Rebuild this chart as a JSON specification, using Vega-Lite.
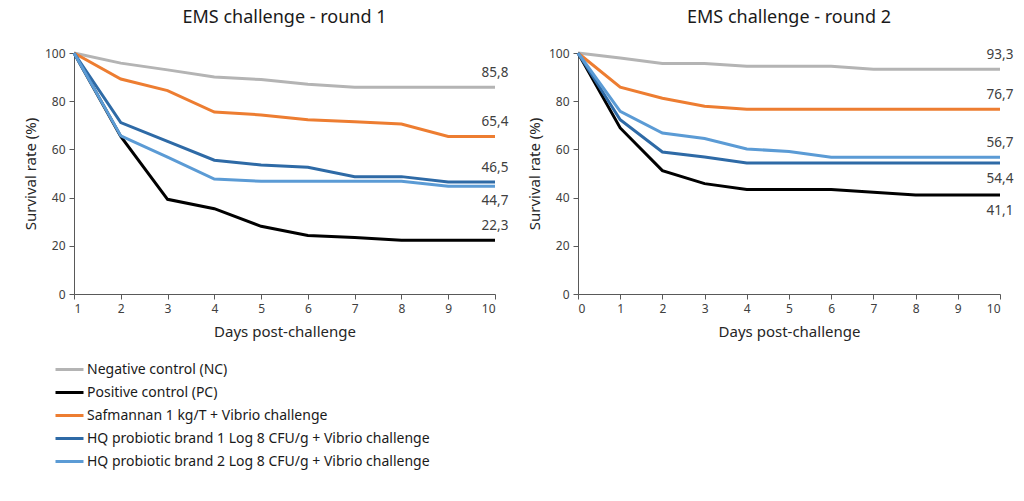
{
  "$schema": "https://vega.github.io/schema/vega-lite/v6.json",
  "background": "white",
  "padding": {"left": 23, "top": 9, "right": 7, "bottom": 5},
  "config": {
    "font": "Noto Sans",
    "view": {"stroke": null},
    "axis": {
      "grid": false,
      "domainColor": "#595959",
      "tickColor": "#595959",
      "labelColor": "#404040",
      "labelFontSize": 12,
      "labelPadding": 4,
      "titleColor": "#262626",
      "titleFontSize": 15,
      "titleFontWeight": "normal",
      "tickSize": 5
    },
    "axisX": {"titlePadding": 10},
    "axisY": {"titlePadding": 6},
    "title": {"fontSize": 18, "fontWeight": "normal", "color": "#1a1a1a", "offset": 20},
    "legend": {
      "orient": "none",
      "legendX": -20,
      "legendY": 301,
      "symbolType": "stroke",
      "symbolSize": 784,
      "symbolStrokeWidth": 3,
      "labelFontSize": 14,
      "labelColor": "#1a1a1a",
      "labelOffset": 2,
      "rowPadding": -2,
      "labelLimit": 500
    }
  },
  "datasets": {
    "survival": [
      {"round": 1, "group": "Negative control (NC)", "day": 1, "rate": 100},
      {"round": 1, "group": "Negative control (NC)", "day": 2, "rate": 95.8},
      {"round": 1, "group": "Negative control (NC)", "day": 3, "rate": 93},
      {"round": 1, "group": "Negative control (NC)", "day": 4, "rate": 90},
      {"round": 1, "group": "Negative control (NC)", "day": 5, "rate": 89},
      {"round": 1, "group": "Negative control (NC)", "day": 6, "rate": 87},
      {"round": 1, "group": "Negative control (NC)", "day": 7, "rate": 85.8},
      {"round": 1, "group": "Negative control (NC)", "day": 8, "rate": 85.8},
      {"round": 1, "group": "Negative control (NC)", "day": 9, "rate": 85.8},
      {"round": 1, "group": "Negative control (NC)", "day": 10, "rate": 85.8},
      {"round": 1, "group": "Positive control (PC)", "day": 1, "rate": 100},
      {"round": 1, "group": "Positive control (PC)", "day": 2, "rate": 65.4},
      {"round": 1, "group": "Positive control (PC)", "day": 3, "rate": 39.3},
      {"round": 1, "group": "Positive control (PC)", "day": 4, "rate": 35.4},
      {"round": 1, "group": "Positive control (PC)", "day": 5, "rate": 28.1},
      {"round": 1, "group": "Positive control (PC)", "day": 6, "rate": 24.3},
      {"round": 1, "group": "Positive control (PC)", "day": 7, "rate": 23.4},
      {"round": 1, "group": "Positive control (PC)", "day": 8, "rate": 22.3},
      {"round": 1, "group": "Positive control (PC)", "day": 9, "rate": 22.3},
      {"round": 1, "group": "Positive control (PC)", "day": 10, "rate": 22.3},
      {"round": 1, "group": "Safmannan 1 kg/T + Vibrio challenge", "day": 1, "rate": 100},
      {"round": 1, "group": "Safmannan 1 kg/T + Vibrio challenge", "day": 2, "rate": 89.2},
      {"round": 1, "group": "Safmannan 1 kg/T + Vibrio challenge", "day": 3, "rate": 84.4},
      {"round": 1, "group": "Safmannan 1 kg/T + Vibrio challenge", "day": 4, "rate": 75.5},
      {"round": 1, "group": "Safmannan 1 kg/T + Vibrio challenge", "day": 5, "rate": 74.3},
      {"round": 1, "group": "Safmannan 1 kg/T + Vibrio challenge", "day": 6, "rate": 72.3},
      {"round": 1, "group": "Safmannan 1 kg/T + Vibrio challenge", "day": 7, "rate": 71.5},
      {"round": 1, "group": "Safmannan 1 kg/T + Vibrio challenge", "day": 8, "rate": 70.5},
      {"round": 1, "group": "Safmannan 1 kg/T + Vibrio challenge", "day": 9, "rate": 65.4},
      {"round": 1, "group": "Safmannan 1 kg/T + Vibrio challenge", "day": 10, "rate": 65.4},
      {"round": 1, "group": "HQ probiotic brand 1 Log 8 CFU/g + Vibrio challenge", "day": 1, "rate": 100},
      {"round": 1, "group": "HQ probiotic brand 1 Log 8 CFU/g + Vibrio challenge", "day": 2, "rate": 71.1},
      {"round": 1, "group": "HQ probiotic brand 1 Log 8 CFU/g + Vibrio challenge", "day": 3, "rate": 63.3},
      {"round": 1, "group": "HQ probiotic brand 1 Log 8 CFU/g + Vibrio challenge", "day": 4, "rate": 55.5},
      {"round": 1, "group": "HQ probiotic brand 1 Log 8 CFU/g + Vibrio challenge", "day": 5, "rate": 53.5},
      {"round": 1, "group": "HQ probiotic brand 1 Log 8 CFU/g + Vibrio challenge", "day": 6, "rate": 52.6},
      {"round": 1, "group": "HQ probiotic brand 1 Log 8 CFU/g + Vibrio challenge", "day": 7, "rate": 48.7},
      {"round": 1, "group": "HQ probiotic brand 1 Log 8 CFU/g + Vibrio challenge", "day": 8, "rate": 48.7},
      {"round": 1, "group": "HQ probiotic brand 1 Log 8 CFU/g + Vibrio challenge", "day": 9, "rate": 46.5},
      {"round": 1, "group": "HQ probiotic brand 1 Log 8 CFU/g + Vibrio challenge", "day": 10, "rate": 46.5},
      {"round": 1, "group": "HQ probiotic brand 2 Log 8 CFU/g + Vibrio challenge", "day": 1, "rate": 100},
      {"round": 1, "group": "HQ probiotic brand 2 Log 8 CFU/g + Vibrio challenge", "day": 2, "rate": 65.6},
      {"round": 1, "group": "HQ probiotic brand 2 Log 8 CFU/g + Vibrio challenge", "day": 3, "rate": 56.8},
      {"round": 1, "group": "HQ probiotic brand 2 Log 8 CFU/g + Vibrio challenge", "day": 4, "rate": 47.7},
      {"round": 1, "group": "HQ probiotic brand 2 Log 8 CFU/g + Vibrio challenge", "day": 5, "rate": 46.8},
      {"round": 1, "group": "HQ probiotic brand 2 Log 8 CFU/g + Vibrio challenge", "day": 6, "rate": 46.8},
      {"round": 1, "group": "HQ probiotic brand 2 Log 8 CFU/g + Vibrio challenge", "day": 7, "rate": 46.8},
      {"round": 1, "group": "HQ probiotic brand 2 Log 8 CFU/g + Vibrio challenge", "day": 8, "rate": 46.8},
      {"round": 1, "group": "HQ probiotic brand 2 Log 8 CFU/g + Vibrio challenge", "day": 9, "rate": 44.7},
      {"round": 1, "group": "HQ probiotic brand 2 Log 8 CFU/g + Vibrio challenge", "day": 10, "rate": 44.7},
      {"round": 2, "group": "Negative control (NC)", "day": 0, "rate": 100},
      {"round": 2, "group": "Negative control (NC)", "day": 1, "rate": 97.9},
      {"round": 2, "group": "Negative control (NC)", "day": 2, "rate": 95.6},
      {"round": 2, "group": "Negative control (NC)", "day": 3, "rate": 95.6},
      {"round": 2, "group": "Negative control (NC)", "day": 4, "rate": 94.5},
      {"round": 2, "group": "Negative control (NC)", "day": 5, "rate": 94.5},
      {"round": 2, "group": "Negative control (NC)", "day": 6, "rate": 94.5},
      {"round": 2, "group": "Negative control (NC)", "day": 7, "rate": 93.3},
      {"round": 2, "group": "Negative control (NC)", "day": 8, "rate": 93.3},
      {"round": 2, "group": "Negative control (NC)", "day": 9, "rate": 93.3},
      {"round": 2, "group": "Negative control (NC)", "day": 10, "rate": 93.3},
      {"round": 2, "group": "Positive control (PC)", "day": 0, "rate": 100},
      {"round": 2, "group": "Positive control (PC)", "day": 1, "rate": 68.9},
      {"round": 2, "group": "Positive control (PC)", "day": 2, "rate": 51.2},
      {"round": 2, "group": "Positive control (PC)", "day": 3, "rate": 45.8},
      {"round": 2, "group": "Positive control (PC)", "day": 4, "rate": 43.4},
      {"round": 2, "group": "Positive control (PC)", "day": 5, "rate": 43.4},
      {"round": 2, "group": "Positive control (PC)", "day": 6, "rate": 43.4},
      {"round": 2, "group": "Positive control (PC)", "day": 7, "rate": 42.2},
      {"round": 2, "group": "Positive control (PC)", "day": 8, "rate": 41.1},
      {"round": 2, "group": "Positive control (PC)", "day": 9, "rate": 41.1},
      {"round": 2, "group": "Positive control (PC)", "day": 10, "rate": 41.1},
      {"round": 2, "group": "Safmannan 1 kg/T + Vibrio challenge", "day": 0, "rate": 100},
      {"round": 2, "group": "Safmannan 1 kg/T + Vibrio challenge", "day": 1, "rate": 85.8},
      {"round": 2, "group": "Safmannan 1 kg/T + Vibrio challenge", "day": 2, "rate": 81.2},
      {"round": 2, "group": "Safmannan 1 kg/T + Vibrio challenge", "day": 3, "rate": 77.9},
      {"round": 2, "group": "Safmannan 1 kg/T + Vibrio challenge", "day": 4, "rate": 76.7},
      {"round": 2, "group": "Safmannan 1 kg/T + Vibrio challenge", "day": 5, "rate": 76.7},
      {"round": 2, "group": "Safmannan 1 kg/T + Vibrio challenge", "day": 6, "rate": 76.7},
      {"round": 2, "group": "Safmannan 1 kg/T + Vibrio challenge", "day": 7, "rate": 76.7},
      {"round": 2, "group": "Safmannan 1 kg/T + Vibrio challenge", "day": 8, "rate": 76.7},
      {"round": 2, "group": "Safmannan 1 kg/T + Vibrio challenge", "day": 9, "rate": 76.7},
      {"round": 2, "group": "Safmannan 1 kg/T + Vibrio challenge", "day": 10, "rate": 76.7},
      {"round": 2, "group": "HQ probiotic brand 1 Log 8 CFU/g + Vibrio challenge", "day": 0, "rate": 100},
      {"round": 2, "group": "HQ probiotic brand 1 Log 8 CFU/g + Vibrio challenge", "day": 1, "rate": 72.3},
      {"round": 2, "group": "HQ probiotic brand 1 Log 8 CFU/g + Vibrio challenge", "day": 2, "rate": 58.9},
      {"round": 2, "group": "HQ probiotic brand 1 Log 8 CFU/g + Vibrio challenge", "day": 3, "rate": 56.8},
      {"round": 2, "group": "HQ probiotic brand 1 Log 8 CFU/g + Vibrio challenge", "day": 4, "rate": 54.4},
      {"round": 2, "group": "HQ probiotic brand 1 Log 8 CFU/g + Vibrio challenge", "day": 5, "rate": 54.4},
      {"round": 2, "group": "HQ probiotic brand 1 Log 8 CFU/g + Vibrio challenge", "day": 6, "rate": 54.4},
      {"round": 2, "group": "HQ probiotic brand 1 Log 8 CFU/g + Vibrio challenge", "day": 7, "rate": 54.4},
      {"round": 2, "group": "HQ probiotic brand 1 Log 8 CFU/g + Vibrio challenge", "day": 8, "rate": 54.4},
      {"round": 2, "group": "HQ probiotic brand 1 Log 8 CFU/g + Vibrio challenge", "day": 9, "rate": 54.4},
      {"round": 2, "group": "HQ probiotic brand 1 Log 8 CFU/g + Vibrio challenge", "day": 10, "rate": 54.4},
      {"round": 2, "group": "HQ probiotic brand 2 Log 8 CFU/g + Vibrio challenge", "day": 0, "rate": 100},
      {"round": 2, "group": "HQ probiotic brand 2 Log 8 CFU/g + Vibrio challenge", "day": 1, "rate": 75.8},
      {"round": 2, "group": "HQ probiotic brand 2 Log 8 CFU/g + Vibrio challenge", "day": 2, "rate": 66.8},
      {"round": 2, "group": "HQ probiotic brand 2 Log 8 CFU/g + Vibrio challenge", "day": 3, "rate": 64.5},
      {"round": 2, "group": "HQ probiotic brand 2 Log 8 CFU/g + Vibrio challenge", "day": 4, "rate": 60.2},
      {"round": 2, "group": "HQ probiotic brand 2 Log 8 CFU/g + Vibrio challenge", "day": 5, "rate": 59.1},
      {"round": 2, "group": "HQ probiotic brand 2 Log 8 CFU/g + Vibrio challenge", "day": 6, "rate": 56.7},
      {"round": 2, "group": "HQ probiotic brand 2 Log 8 CFU/g + Vibrio challenge", "day": 7, "rate": 56.7},
      {"round": 2, "group": "HQ probiotic brand 2 Log 8 CFU/g + Vibrio challenge", "day": 8, "rate": 56.7},
      {"round": 2, "group": "HQ probiotic brand 2 Log 8 CFU/g + Vibrio challenge", "day": 9, "rate": 56.7},
      {"round": 2, "group": "HQ probiotic brand 2 Log 8 CFU/g + Vibrio challenge", "day": 10, "rate": 56.7}
    ]
  },
  "spacing": 18,
  "hconcat": [
    {
      "width": 421,
      "height": 241,
      "title": "EMS challenge - round 1",
      "data": {"name": "survival"},
      "transform": [{"filter": "datum.round == 1"}],
      "layer": [
        {
          "mark": {"type": "line", "strokeWidth": 3},
          "encoding": {
            "x": {"field": "day", "type": "quantitative", "title": "Days post-challenge",
                  "scale": {"domain": [1, 10], "nice": false},
                  "axis": {"values": [1, 2, 3, 4, 5, 6, 7, 8, 9, 10], "format": "d"}},
            "y": {"field": "rate", "type": "quantitative", "title": "Survival rate (%)",
                  "scale": {"domain": [0, 100], "nice": false},
                  "axis": {"values": [0, 20, 40, 60, 80, 100]}},
            "color": {"field": "group", "type": "nominal", "title": null,
                      "scale": {"domain": ["Negative control (NC)", "Positive control (PC)", "Safmannan 1 kg/T + Vibrio challenge", "HQ probiotic brand 1 Log 8 CFU/g + Vibrio challenge", "HQ probiotic brand 2 Log 8 CFU/g + Vibrio challenge"],
                                "range": ["#b4b4b4", "#000000", "#ed7d31", "#2e6aa6", "#5b9bd5"]},
                      "sort": null}
          }
        },
        {
          "transform": [
            {"filter": "datum.day == 10 && datum.group != 'HQ probiotic brand 2 Log 8 CFU/g + Vibrio challenge'"},
            {"calculate": "replace(format(datum.rate, '.1f'), '.', ',')", "as": "label"}
          ],
          "mark": {"type": "text", "dy": -14, "fontSize": 13.5, "color": "#404040"},
          "encoding": {
            "x": {"field": "day", "type": "quantitative"},
            "y": {"field": "rate", "type": "quantitative"},
            "text": {"field": "label"}
          }
        },
        {
          "transform": [
            {"filter": "datum.day == 10 && datum.group == 'HQ probiotic brand 2 Log 8 CFU/g + Vibrio challenge'"},
            {"calculate": "replace(format(datum.rate, '.1f'), '.', ',')", "as": "label"}
          ],
          "mark": {"type": "text", "dy": 15, "fontSize": 13.5, "color": "#404040"},
          "encoding": {
            "x": {"field": "day", "type": "quantitative"},
            "y": {"field": "rate", "type": "quantitative"},
            "text": {"field": "label"}
          }
        }
      ]
    },
    {
      "width": 422,
      "height": 241,
      "title": "EMS challenge - round 2",
      "data": {"name": "survival"},
      "transform": [{"filter": "datum.round == 2"}],
      "layer": [
        {
          "mark": {"type": "line", "strokeWidth": 3},
          "encoding": {
            "x": {"field": "day", "type": "quantitative", "title": "Days post-challenge",
                  "scale": {"domain": [0, 10], "nice": false},
                  "axis": {"values": [0, 1, 2, 3, 4, 5, 6, 7, 8, 9, 10], "format": "d"}},
            "y": {"field": "rate", "type": "quantitative", "title": "Survival rate (%)",
                  "scale": {"domain": [0, 100], "nice": false},
                  "axis": {"values": [0, 20, 40, 60, 80, 100]}},
            "color": {"field": "group", "type": "nominal", "sort": null}
          }
        },
        {
          "transform": [
            {"filter": "datum.day == 10 && (datum.group == 'Negative control (NC)' || datum.group == 'Safmannan 1 kg/T + Vibrio challenge' || datum.group == 'HQ probiotic brand 2 Log 8 CFU/g + Vibrio challenge')"},
            {"calculate": "replace(format(datum.rate, '.1f'), '.', ',')", "as": "label"}
          ],
          "mark": {"type": "text", "dy": -14, "fontSize": 13.5, "color": "#404040"},
          "encoding": {
            "x": {"field": "day", "type": "quantitative"},
            "y": {"field": "rate", "type": "quantitative"},
            "text": {"field": "label"}
          }
        },
        {
          "transform": [
            {"filter": "datum.day == 10 && (datum.group == 'Positive control (PC)' || datum.group == 'HQ probiotic brand 1 Log 8 CFU/g + Vibrio challenge')"},
            {"calculate": "replace(format(datum.rate, '.1f'), '.', ',')", "as": "label"}
          ],
          "mark": {"type": "text", "dy": 16, "fontSize": 13.5, "color": "#404040"},
          "encoding": {
            "x": {"field": "day", "type": "quantitative"},
            "y": {"field": "rate", "type": "quantitative"},
            "text": {"field": "label"}
          }
        }
      ]
    }
  ]
}
